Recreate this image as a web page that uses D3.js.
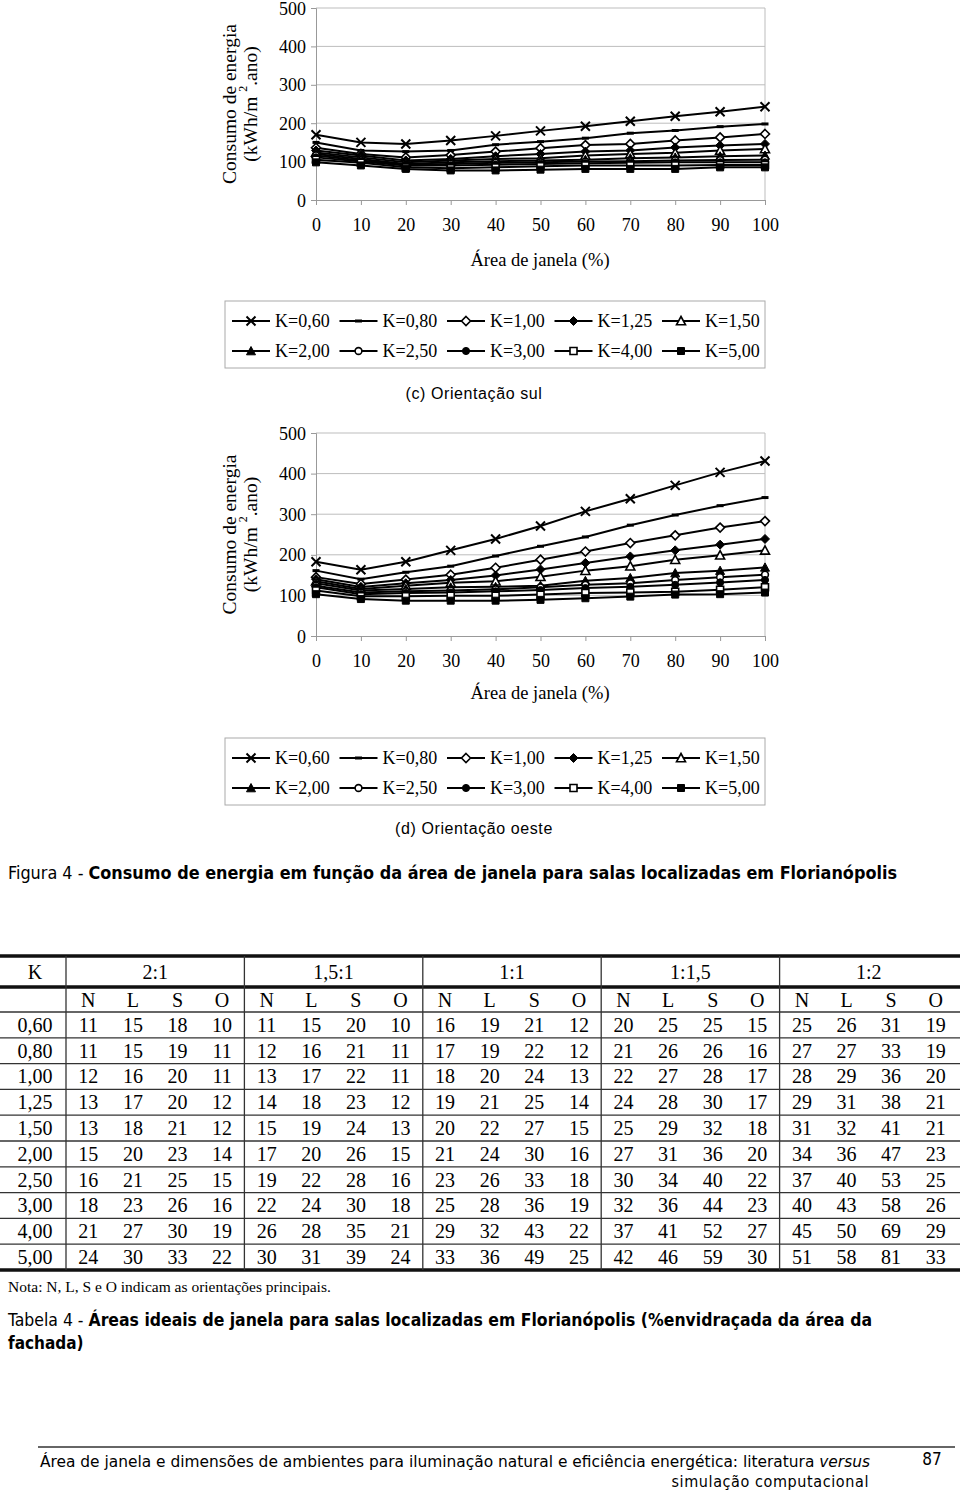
<!DOCTYPE html>
<html><head><meta charset="utf-8">
<script src="https://cdn.jsdelivr.net/npm/d3@7"></script>
<style>body{margin:0;background:#fff}svg{display:block}</style>
</head><body>
<script>
// ---------- DATA ----------
const xVals = [0,10,20,30,40,50,60,70,80,90,100];
const yTicks = [0,100,200,300,400,500];
const seriesNames = ["K=0,60","K=0,80","K=1,00","K=1,25","K=1,50","K=2,00","K=2,50","K=3,00","K=4,00","K=5,00"];
const markerTypes = ["x","dash","diamondOpen","diamondFilled","triangleOpen","triangleFilled","circleOpen","circleFilled","squareOpen","squareFilled"];
const southValues = [
  [170,150,146,155,167,180,192,205,218,230,243],
  [150,129,126,129,144,152,161,174,181,191,198],
  [136,120,111,117,126,135,143,146,155,163,172],
  [129,116,103,107,114,120,126,129,137,142,146],
  [124,111,98,103,107,109,116,120,123,129,133],
  [120,107,94,98,101,103,105,109,111,114,116],
  [116,103,92,94,97,98,100,101,103,104,105],
  [111,100,90,90,92,94,96,97,98,98,98],
  [105,97,85,83,85,88,90,90,90,91,91],
  [98,90,81,77,77,79,81,81,81,85,85]
];
const westValues = [
  [183,163,183,211,239,271,307,338,371,403,431],
  [161,140,157,172,197,221,244,273,298,321,341],
  [145,128,139,151,168,188,208,229,248,267,283],
  [140,121,130,138,149,164,180,196,211,225,239],
  [135,116,124,131,135,146,161,172,188,199,211],
  [130,112,116,120,121,124,136,143,155,161,169],
  [124,107,110,112,115,120,126,130,138,145,151],
  [120,103,106,107,110,113,118,121,126,132,138],
  [112,98,98,99,99,102,106,107,109,114,120],
  [103,91,87,87,87,89,93,97,102,103,107]
];
const ratios = ["2:1","1,5:1","1:1","1:1,5","1:2"];
const orients = ["N","L","S","O"];
const kRows = ["0,60","0,80","1,00","1,25","1,50","2,00","2,50","3,00","4,00","5,00"];
const tableValues = [
  [11,15,18,10, 11,15,20,10, 16,19,21,12, 20,25,25,15, 25,26,31,19],
  [11,15,19,11, 12,16,21,11, 17,19,22,12, 21,26,26,16, 27,27,33,19],
  [12,16,20,11, 13,17,22,11, 18,20,24,13, 22,27,28,17, 28,29,36,20],
  [13,17,20,12, 14,18,23,12, 19,21,25,14, 24,28,30,17, 29,31,38,21],
  [13,18,21,12, 15,19,24,13, 20,22,27,15, 25,29,32,18, 31,32,41,21],
  [15,20,23,14, 17,20,26,15, 21,24,30,16, 27,31,36,20, 34,36,47,23],
  [16,21,25,15, 19,22,28,16, 23,26,33,18, 30,34,40,22, 37,40,53,25],
  [18,23,26,16, 22,24,30,18, 25,28,36,19, 32,36,44,23, 40,43,58,26],
  [21,27,30,19, 26,28,35,21, 29,32,43,22, 37,41,52,27, 45,50,69,29],
  [24,30,33,22, 30,31,39,24, 33,36,49,25, 42,46,59,30, 51,58,81,33]
];

// ---------- DRAW ----------
const W = 960, H = 1492;
const serif = "'Liberation Serif','Times New Roman',serif";
const narrow = "'Liberation Sans Narrow','Arial Narrow','DejaVu Sans Condensed',sans-serif";
const sans = "'Liberation Sans',Arial,sans-serif";
const svg = d3.select("body").append("svg").attr("width",W).attr("height",H);
svg.append("rect").attr("width",W).attr("height",H).attr("fill","#fff");

function marker(g, type, x, y){
  const s = g.append("path").attr("transform",`translate(${x},${y})`).attr("stroke","#000");
  switch(type){
    case "x": s.attr("d","M-4.5,-4.5L4.5,4.5M-4.5,4.5L4.5,-4.5").attr("stroke-width",2).attr("fill","none"); break;
    case "dash": s.attr("d","M-3.5,-1.5H3.5V1.5H-3.5Z").attr("fill","#000").attr("stroke","none"); break;
    case "diamondOpen": s.attr("d","M0,-4.5L4.5,0L0,4.5L-4.5,0Z").attr("fill","#fff").attr("stroke-width",1.6); break;
    case "diamondFilled": s.attr("d","M0,-4.5L4.5,0L0,4.5L-4.5,0Z").attr("fill","#000").attr("stroke-width",1); break;
    case "triangleOpen": s.attr("d","M0,-4.5L4.5,3.8L-4.5,3.8Z").attr("fill","#fff").attr("stroke-width",1.6); break;
    case "triangleFilled": s.attr("d","M0,-4.5L4.5,3.8L-4.5,3.8Z").attr("fill","#000").attr("stroke-width",1); break;
    case "circleOpen": s.attr("d",d3.symbol(d3.symbolCircle, 36)()).attr("fill","#fff").attr("stroke-width",1.6); break;
    case "circleFilled": s.attr("d",d3.symbol(d3.symbolCircle, 40)()).attr("fill","#000").attr("stroke-width",1); break;
    case "squareOpen": s.attr("d","M-3.5,-3.5H3.5V3.5H-3.5Z").attr("fill","#fff").attr("stroke-width",1.6); break;
    case "squareFilled": s.attr("d","M-3.5,-3.5H3.5V3.5H-3.5Z").attr("fill","#000").attr("stroke-width",1); break;
  }
}

function drawChart(values, yTop, yBottom, tickLabelY, titleY, legendTop, caption, captionY){
  const x = d3.scaleLinear().domain([0,100]).range([316,765]);
  const y = d3.scaleLinear().domain([0,500]).range([yBottom,yTop]);
  const g = svg.append("g");
  g.selectAll(".grid").data(yTicks.filter(d=>d>0)).join("line")
    .attr("x1",x(0)).attr("x2",x(100)).attr("y1",d=>y(d)).attr("y2",d=>y(d))
    .attr("stroke","#bdbdbd").attr("stroke-width",1);
  g.append("line").attr("x1",x(100)).attr("x2",x(100)).attr("y1",y(500)).attr("y2",y(0)).attr("stroke","#bdbdbd");
  const ay = g.append("g").attr("transform",`translate(${x(0)},0)`)
    .call(d3.axisLeft(y).tickValues(yTicks).tickSize(5).tickPadding(5));
  const ax = g.append("g").attr("transform",`translate(0,${y(0)})`)
    .call(d3.axisBottom(x).tickValues(xVals).tickSize(5).tickPadding(0));
  [ay,ax].forEach(a=>{
    a.selectAll("path,line").attr("stroke","#999");
    a.selectAll("text").attr("font-family",serif).attr("font-size",18).attr("fill","#000");
  });
  ax.selectAll("text").attr("dy",null).attr("y",tickLabelY - y(0)).attr("dominant-baseline","central");
  ay.selectAll("text").attr("dominant-baseline","central").attr("dy",null);
  const cy = (y(0)+y(500))/2;
  g.append("text").attr("transform",`translate(229,${cy}) rotate(-90)`)
    .attr("text-anchor","middle").attr("dominant-baseline","central")
    .attr("font-family",serif).attr("font-size",19.5).text("Consumo de energia");
  const t2 = g.append("text").attr("transform",`translate(250,${cy}) rotate(-90)`)
    .attr("text-anchor","middle").attr("dominant-baseline","central")
    .attr("font-family",serif).attr("font-size",19.5);
  t2.append("tspan").text("(kWh/m ");
  t2.append("tspan").attr("font-size",12).attr("dy",-7).text("2");
  t2.append("tspan").attr("dy",7).text(".ano)");
  g.append("text").attr("x",540).attr("y",titleY).attr("text-anchor","middle").attr("dominant-baseline","central")
    .attr("font-family",serif).attr("font-size",18.5).text("Área de janela (%)");
  const line = d3.line().x((d,i)=>x(xVals[i])).y(d=>y(d));
  values.forEach((vals)=>{
    g.append("path").attr("d",line(vals)).attr("fill","none").attr("stroke","#000").attr("stroke-width",2);
  });
  values.forEach((vals,si)=>{
    vals.forEach((v,i)=>marker(g, markerTypes[si], x(xVals[i]), y(v)));
  });
  const lg = svg.append("g");
  lg.append("rect").attr("x",225).attr("y",legendTop).attr("width",540).attr("height",67)
    .attr("fill","#fff").attr("stroke","#aaa").attr("stroke-width",1);
  seriesNames.forEach((name,i)=>{
    const row = Math.floor(i/5), col = i%5;
    const tx = 275 + col*107.5, ty = legendTop + 20 + row*30;
    lg.append("line").attr("x1",tx-43).attr("x2",tx-5).attr("y1",ty).attr("y2",ty).attr("stroke","#000").attr("stroke-width",2);
    marker(lg, markerTypes[i], tx-24, ty);
    lg.append("text").attr("x",tx).attr("y",ty).attr("dominant-baseline","central")
      .attr("font-family",serif).attr("font-size",18).text(name);
  });
  svg.append("text").attr("x",W/2-6).attr("y",captionY).attr("text-anchor","middle").attr("dominant-baseline","central")
    .attr("font-family",sans).attr("font-size",16).attr("letter-spacing",0.6).text(caption);
}

drawChart(southValues, 8, 200, 225, 260, 301, "(c) Orientação sul", 393);
drawChart(westValues, 433, 636, 661, 693, 738, "(d) Orientação oeste", 828);

const fc = svg.append("text").attr("x",8).attr("y",879).attr("font-family",narrow).attr("font-size",17)
  .attr("textLength",889).attr("lengthAdjust","spacingAndGlyphs");
fc.append("tspan").text("Figura 4 - ");
fc.append("tspan").attr("font-weight","bold").text("Consumo de energia em função da área de janela para salas localizadas em Florianópolis");

// ---------- TABLE ----------
const tg = svg.append("g");
const kW = 66, groupW = 178.4;
const colX = d3.scaleBand().domain(d3.range(20)).range([kW, kW + groupW*5]);
const rowTop = 1012, rowH = 25.8;
const rowY = d3.scaleBand().domain(d3.range(kRows.length)).range([rowTop, rowTop + rowH*kRows.length]);
const fs = 20;
[956, 987, 1270].forEach(yy=>tg.append("line").attr("x1",0).attr("x2",W).attr("y1",yy).attr("y2",yy).attr("stroke","#111").attr("stroke-width",3.5));
[1012].concat(d3.range(1,kRows.length).map(i=>rowY(i))).forEach(yy=>
  tg.append("line").attr("x1",0).attr("x2",W).attr("y1",yy).attr("y2",yy).attr("stroke","#333").attr("stroke-width",1.3));
d3.range(5).forEach(i=>{
  const xx = kW + groupW*i;
  tg.append("line").attr("x1",xx).attr("x2",xx).attr("y1",956).attr("y2",1270).attr("stroke","#333").attr("stroke-width",1.3);
});
tg.append("text").attr("x",kW/2+2).attr("y",979).attr("text-anchor","middle").attr("font-family",serif).attr("font-size",fs).text("K");
ratios.forEach((r,i)=>tg.append("text").attr("x",kW+groupW*(i+0.5)).attr("y",979).attr("text-anchor","middle")
  .attr("font-family",serif).attr("font-size",fs).text(r));
d3.range(20).forEach(c=>tg.append("text").attr("x",colX(c)+colX.bandwidth()/2).attr("y",1007).attr("text-anchor","middle")
  .attr("font-family",serif).attr("font-size",fs).text(orients[c%4]));
kRows.forEach((k,r)=>{
  const by = rowY(r) + rowH - 6;
  tg.append("text").attr("x",kW/2+2).attr("y",by).attr("text-anchor","middle").attr("font-family",serif).attr("font-size",fs).text(k);
  tableValues[r].forEach((v,c)=>tg.append("text").attr("x",colX(c)+colX.bandwidth()/2).attr("y",by).attr("text-anchor","middle")
    .attr("font-family",serif).attr("font-size",fs).text(v));
});
svg.append("text").attr("x",8).attr("y",1292).attr("font-family",serif).attr("font-size",15.5)
  .text("Nota: N, L, S e O indicam as orientações principais.");

const tc = svg.append("text").attr("x",8).attr("y",1326).attr("font-family",narrow).attr("font-size",17)
  .attr("textLength",864).attr("lengthAdjust","spacingAndGlyphs");
tc.append("tspan").text("Tabela 4 - ");
tc.append("tspan").attr("font-weight","bold").text("Áreas ideais de janela para salas localizadas em Florianópolis (%envidraçada da área da");
svg.append("text").attr("x",8).attr("y",1349).attr("font-family",narrow).attr("font-size",17).attr("font-weight","bold").text("fachada)");

svg.append("line").attr("x1",38).attr("x2",955).attr("y1",1447).attr("y2",1447).attr("stroke","#333").attr("stroke-width",1.3);
const ft = svg.append("text").attr("x",40).attr("y",1467).attr("font-family",narrow).attr("font-size",16)
  .attr("textLength",830).attr("lengthAdjust","spacingAndGlyphs");
ft.append("tspan").text("Área de janela e dimensões de ambientes para iluminação natural e eficiência energética: literatura ");
ft.append("tspan").attr("font-style","italic").text("versus");
svg.append("text").attr("x",869).attr("y",1487).attr("text-anchor","end").attr("font-family",narrow).attr("font-size",16)
  .attr("letter-spacing",0.6).text("simulação computacional");
svg.append("text").attr("x",932).attr("y",1465).attr("text-anchor","middle").attr("font-family",narrow).attr("font-size",17).text("87");
</script>
</body></html>
